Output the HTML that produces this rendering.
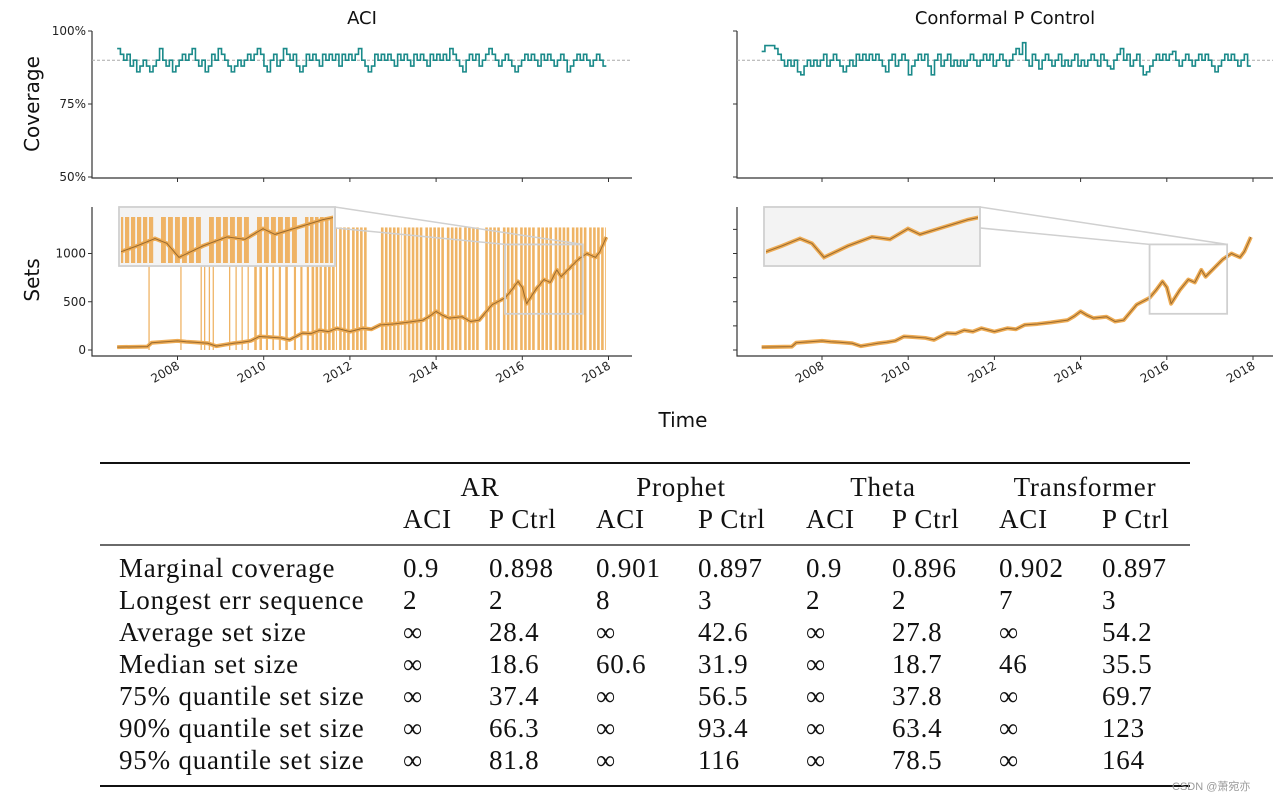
<!DOCTYPE html>
<html><head><meta charset="utf-8"><style>
html,body{margin:0;padding:0;background:#fff;}
svg{display:block;}
.tk{font-family:"DejaVu Sans","Liberation Sans",sans-serif;font-size:12px;fill:#222;}
.tb{font-family:"Liberation Serif",serif;font-size:27px;fill:#111;letter-spacing:0.8px;}
</style></head><body>
<svg id="fig" width="1287" height="804" viewBox="0 0 1287 804" xmlns="http://www.w3.org/2000/svg">
<g id="charts"></g>
<g id="labels">
<text x="362" y="24" text-anchor="middle" font-family="DejaVu Sans,sans-serif" font-size="18" fill="#111">ACI</text>
<text x="1005" y="24" text-anchor="middle" font-family="DejaVu Sans,sans-serif" font-size="18" fill="#111">Conformal P Control</text>
<text transform="translate(39,104) rotate(-90)" text-anchor="middle" font-family="DejaVu Sans,sans-serif" font-size="20" fill="#111">Coverage</text>
<text transform="translate(39,280) rotate(-90)" text-anchor="middle" font-family="DejaVu Sans,sans-serif" font-size="20" fill="#111">Sets</text>
<text x="683" y="427" text-anchor="middle" font-family="DejaVu Sans,sans-serif" font-size="20" fill="#111">Time</text>
</g>
<g id="table"></g>
<text x="1172" y="790" font-family="Liberation Sans,Noto Sans CJK SC,sans-serif" font-size="11" fill="#999">CSDN @萧宛亦</text>
</svg>
<script>
// ---- data ----
const years = [2008, 2010, 2012, 2014, 2016, 2018];
const covTicks = ["100%", "75%", "50%"];
const covTickVals = [1.0, 0.75, 0.5];
const setTickVals = [0, 250, 500, 750, 1000, 1250];
const setTickLabels = ["0", "", "500", "", "1000", ""];
const covACI = [0.94,0.92,0.9,0.92,0.88,0.9,0.86,0.88,0.9,0.88,0.86,0.88,0.9,0.94,0.9,0.88,0.9,0.86,0.88,0.9,0.92,0.9,0.92,0.94,0.9,0.88,0.9,0.86,0.88,0.92,0.9,0.94,0.92,0.9,0.88,0.86,0.88,0.9,0.88,0.9,0.92,0.9,0.92,0.94,0.92,0.88,0.86,0.9,0.92,0.88,0.9,0.94,0.92,0.9,0.92,0.88,0.86,0.88,0.92,0.9,0.92,0.9,0.88,0.92,0.9,0.92,0.9,0.92,0.88,0.92,0.9,0.92,0.9,0.92,0.94,0.9,0.88,0.86,0.88,0.92,0.9,0.92,0.9,0.92,0.9,0.88,0.92,0.9,0.92,0.9,0.88,0.92,0.9,0.92,0.9,0.88,0.92,0.9,0.92,0.9,0.92,0.9,0.94,0.92,0.9,0.88,0.86,0.9,0.92,0.9,0.92,0.88,0.9,0.92,0.94,0.92,0.9,0.88,0.9,0.92,0.9,0.88,0.86,0.88,0.9,0.92,0.9,0.92,0.9,0.88,0.92,0.9,0.92,0.9,0.88,0.9,0.92,0.9,0.86,0.88,0.9,0.92,0.9,0.92,0.9,0.88,0.9,0.92,0.9,0.88];
const covP = [0.93,0.95,0.95,0.95,0.94,0.92,0.9,0.88,0.9,0.88,0.9,0.86,0.85,0.88,0.9,0.88,0.9,0.88,0.9,0.92,0.88,0.9,0.92,0.9,0.88,0.86,0.88,0.9,0.88,0.92,0.9,0.92,0.9,0.92,0.9,0.92,0.9,0.88,0.86,0.9,0.92,0.88,0.9,0.92,0.9,0.85,0.88,0.9,0.92,0.9,0.92,0.88,0.85,0.9,0.92,0.88,0.9,0.92,0.88,0.9,0.88,0.9,0.88,0.9,0.92,0.9,0.88,0.9,0.92,0.9,0.92,0.88,0.9,0.92,0.9,0.88,0.9,0.92,0.94,0.92,0.96,0.9,0.88,0.92,0.9,0.87,0.9,0.92,0.9,0.88,0.9,0.92,0.88,0.9,0.88,0.9,0.92,0.88,0.9,0.88,0.9,0.92,0.9,0.88,0.92,0.9,0.88,0.87,0.9,0.92,0.94,0.9,0.92,0.88,0.9,0.92,0.88,0.85,0.86,0.88,0.9,0.92,0.9,0.92,0.9,0.92,0.93,0.9,0.88,0.9,0.92,0.9,0.88,0.9,0.92,0.9,0.92,0.9,0.88,0.86,0.88,0.9,0.92,0.9,0.92,0.9,0.88,0.9,0.92,0.88];
const priceT = [2006.6,2007.3,2007.4,2008.0,2008.2,2008.4,2008.7,2008.9,2009.1,2009.3,2009.5,2009.7,2009.9,2010.1,2010.4,2010.6,2010.9,2011.1,2011.3,2011.5,2011.7,2012.0,2012.3,2012.5,2012.7,2013.0,2013.3,2013.7,2013.85,2014.0,2014.15,2014.3,2014.6,2014.8,2015.0,2015.3,2015.6,2015.75,2015.9,2016.0,2016.1,2016.3,2016.5,2016.65,2016.8,2016.9,2017.1,2017.3,2017.5,2017.6,2017.7,2017.8,2017.95];
const priceV = [30,35,75,95,85,80,70,40,55,70,80,95,140,135,125,105,175,170,205,190,225,190,225,215,260,270,285,310,350,400,360,330,345,295,310,470,540,620,710,650,480,620,730,700,830,760,850,940,1000,980,960,1020,1170];
const infLines = [2007.34,2008.08,2008.55,2008.63,2008.74,2008.83,2009.21,2009.36,2009.5,2009.64];
const infSpanStart = [2009.78,2009.9,2010.05,2010.2,2010.35,2010.5,2010.7,2010.85,2011.0,2011.11,2011.4,2011.75,2012.05,2012.72,2013.25,2013.75,2014.25,2014.65,2015.14,2015.55,2015.95,2016.35,2016.75,2017.15,2017.55];
const infSpanEnd   = [2009.84,2009.97,2010.1,2010.24,2010.4,2010.56,2010.75,2010.9,2011.05,2011.35,2011.7,2012.0,2012.39,2013.2,2013.7,2014.2,2014.6,2015.0,2015.5,2015.9,2016.3,2016.7,2017.1,2017.5,2017.94];
const zoomT = [2015.6, 2017.4];
const zoomV = [375, 1094];
const infTop = 1270;

// ---- table data ----
const groups = ["AR","Prophet","Theta","Transformer"];
const rowLabels = ["Marginal coverage","Longest err sequence","Average set size","Median set size","75% quantile set size","90% quantile set size","95% quantile set size"];
const cells = [
 ["0.9","0.898","0.901","0.897","0.9","0.896","0.902","0.897"],
 ["2","2","8","3","2","2","7","3"],
 ["∞","28.4","∞","42.6","∞","27.8","∞","54.2"],
 ["∞","18.6","60.6","31.9","∞","18.7","46","35.5"],
 ["∞","37.4","∞","56.5","∞","37.8","∞","69.7"],
 ["∞","66.3","∞","93.4","∞","63.4","∞","123"],
 ["∞","81.8","∞","116","∞","78.5","∞","164"]];

const NS = "http://www.w3.org/2000/svg";
function mk(tag, attrs, parent){const e=document.createElementNS(NS,tag);for(const k in attrs)e.setAttribute(k,attrs[k]);parent.appendChild(e);return e;}
const charts = document.getElementById('charts');

function stripes(parent, xa, xb, ya, yb, color){
  for(let x=xa; x<xb; x+=4){
    mk('rect',{x:x,y:ya,width:Math.min(2.6,xb-x),height:yb-ya,fill:color},parent);
  }
}

function panel(x0, x1, covData, isACI, name){
  const xs = t => (x0===92? 177.5 : 822) + (t-2008)*43.1;
  const yC = c => 177 - (c-0.5)*292;
  const yS = v => 350 - v*0.0965;
  const g = mk('g',{},charts);
  
  
  const sp = mk('path',{d:`M${x0},31V178H${x1}`,fill:'none',stroke:'#333','stroke-width':1.2},g);
  
  
  covTickVals.forEach((v,i)=>{
    mk('line',{x1:x0-4,x2:x0,y1:yC(v),y2:yC(v),stroke:'#333'},g);
    if(isACI){const t=mk('text',{x:x0-6,y:yC(v)+4,'text-anchor':'end',class:'tk'},g);t.textContent=covTicks[i];
      
      }
  });
  years.forEach(y=>mk('line',{x1:xs(y),x2:xs(y),y1:178,y2:182,stroke:'#333'},g));
  const ref = mk('line',{x1:x0,x2:x1,y1:yC(0.9),y2:yC(0.9),stroke:'#aaa','stroke-dasharray':'3,2','stroke-width':1},g);
  
  
  const t0=priceT[0], t1=priceT[priceT.length-1], n=covData.length;
  let d='';
  covData.forEach((c,i)=>{const xa=xs(t0+(t1-t0)*i/n), xb=xs(t0+(t1-t0)*(i+1)/n);
    d += (i===0?`M${xa},${yC(c)}`:`V${yC(c)}`)+`H${xb}`;});
  const cl = mk('path',{d,fill:'none',stroke:'#1a8a8a','stroke-width':1.6},g);
  
  

  const sp2 = mk('path',{d:`M${x0},207V356H${x1}`,fill:'none',stroke:'#333','stroke-width':1.2},g);
  
  
  setTickVals.forEach((v,i)=>{
    if(!isACI || setTickLabels[i]!==""){mk('line',{x1:x0-4,x2:x0,y1:yS(v),y2:yS(v),stroke:'#333'},g);}
    if(isACI && setTickLabels[i]){const t=mk('text',{x:x0-6,y:yS(v)+4,'text-anchor':'end',class:'tk'},g);t.textContent=setTickLabels[i];
      
      }
  });
  years.forEach(y=>{
    mk('line',{x1:xs(y),x2:xs(y),y1:356,y2:360,stroke:'#333'},g);
    const t=mk('text',{transform:`translate(${xs(y)+3},${368}) rotate(-30)`,'text-anchor':'end',class:'tk'},g);
    t.textContent=String(y);
    
    
  });
  const orange='#eeac55';
  if(isACI){
    const gi=mk('g',{opacity:0.9},g);
    
    
    infLines.forEach(t=>mk('line',{x1:xs(t),x2:xs(t),y1:yS(infTop),y2:yS(0),stroke:orange,'stroke-width':1.3},gi));
    infSpanStart.forEach((s,i)=>stripes(gi, xs(s), xs(infSpanEnd[i]), yS(infTop), yS(0), orange));
  }
  let pd='';
  priceT.forEach((t,i)=>{pd+=(i?'L':'M')+xs(t)+','+yS(priceV[i]);});
  mk('path',{d:pd,fill:'none',stroke:orange,'stroke-width':4,'stroke-linejoin':'round'},g);
  const pl=mk('path',{d:pd,fill:'none',stroke:'#9a6a2e','stroke-width':1,'stroke-linejoin':'round'},g);
  
  
  const ix0=x0+27, ix1=x0+243, iy0=207, iy1=266;
  const rx0=xs(zoomT[0]), rx1=xs(zoomT[1]), ry0=yS(zoomV[1]), ry1=yS(zoomV[0]);
  mk('line',{x1:ix0,y1:iy0,x2:rx0,y2:ry0,stroke:'#d0d0d0','stroke-width':1.5},g);
  mk('line',{x1:ix1,y1:iy0,x2:rx1,y2:ry0,stroke:'#d0d0d0','stroke-width':1.5},g);
  const zr=mk('rect',{x:rx0,y:ry0,width:rx1-rx0,height:ry1-ry0,fill:'none',stroke:'#d0d0d0','stroke-width':1.8},g);
  
  
  const ir=mk('rect',{x:ix0,y:iy0,width:ix1-ix0,height:iy1-iy0,fill:'#f3f3f3',stroke:'#d0d0d0','stroke-width':1.8},g);
  
  
  const ixs = t => ix0 + (t-zoomT[0])/(zoomT[1]-zoomT[0])*(ix1-ix0);
  const iys = v => iy1 - (v-zoomV[0])/(zoomV[1]-zoomV[0])*(iy1-iy0);
  const cid='clip'+name;
  const cp=mk('clipPath',{id:cid},g); mk('rect',{x:ix0+2,y:iy0+2,width:ix1-ix0-4,height:iy1-iy0-4},cp);
  const ig=mk('g',{'clip-path':`url(#${cid})`},g);
  if(isACI){
    infSpanStart.forEach((s,i)=>{const a=Math.max(s,zoomT[0]),b=Math.min(infSpanEnd[i],zoomT[1]); if(b>a){
      for(let k=0;k<6;k++){const sa=a+(b-a)*k/6, sb=a+(b-a)*(k+0.7)/6;
        mk('rect',{x:ixs(sa),y:iy0+10,width:ixs(sb)-ixs(sa),height:iy1-iy0-13,fill:orange,opacity:0.9},ig);}
    }});
  }
  let id='';
  priceT.forEach((t,i)=>{id+=(i?'L':'M')+ixs(t)+','+iys(priceV[i]);});
  mk('path',{d:id,fill:'none',stroke:orange,'stroke-width':4},ig);
  mk('path',{d:id,fill:'none',stroke:'#9a6a2e','stroke-width':1},ig);
}
panel(92,632,covACI,true,'aci');
panel(737,1273,covP,false,'pcontrol');

const tb=document.getElementById('table');
mk('line',{x1:100,x2:1190,y1:463,y2:463,stroke:'#111','stroke-width':2},tb);
mk('line',{x1:100,x2:1190,y1:545,y2:545,stroke:'#111','stroke-width':1.2},tb);
mk('line',{x1:100,x2:1190,y1:786,y2:786,stroke:'#111','stroke-width':2},tb);
const colX=[403,489,596,698,806,892,999,1102];
const grpX=[480,681,883,1085];
groups.forEach((g,i)=>{const t=mk('text',{x:grpX[i],y:496,'text-anchor':'middle',class:'tb'},tb);t.textContent=g;
  
  });
colX.forEach((x,i)=>{const t=mk('text',{x,y:528,class:'tb'},tb);t.textContent=i%2?'P Ctrl':'ACI';
  
  });
rowLabels.forEach((l,r)=>{const y=577+r*32;
  const t=mk('text',{x:119,y,class:'tb'},tb);t.textContent=l;
  
  
  cells[r].forEach((c,j)=>{const u=mk('text',{x:colX[j],y,class:'tb'},tb);u.textContent=c;
    
    });
});
</script>
</body></html>
